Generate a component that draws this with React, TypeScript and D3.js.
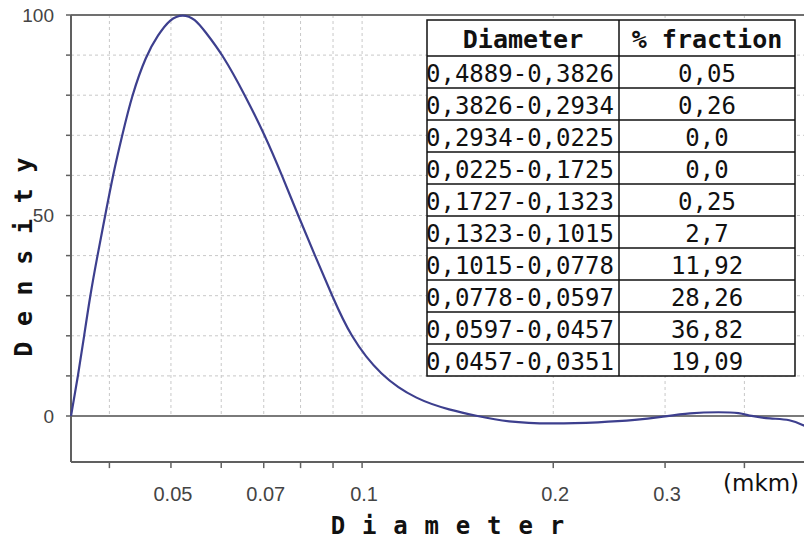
import React from 'react';
import * as d3 from 'd3';

// Curve (diameter in mkm, density)
const diameters = [0.0348, 0.0357, 0.0365, 0.0373, 0.0383, 0.0394, 0.0405, 0.0419, 0.0434, 0.0457, 0.0477, 0.0498, 0.0522, 0.0546, 0.0565, 0.0604, 0.0654, 0.0703, 0.0748, 0.0793, 0.0843, 0.0897, 0.0957, 0.1068, 0.1221, 0.1376, 0.1517, 0.1692, 0.1977, 0.2371, 0.2711, 0.2946, 0.3285, 0.3663, 0.3938, 0.4083, 0.4390, 0.4721, 0.4985];
const densities = [0, 10, 20, 30, 40, 50, 60, 70, 80, 90, 95, 99, 100.3, 99, 96, 90, 80, 70, 60, 50, 40, 30, 20, 10, 4, 1.5, 0, -1.5, -2, -1.6, -1, -0.3, 0.8, 1, 0.8, 0, -0.7, -0.8, -2.5];

const xTickValues = [0.04, 0.05, 0.06, 0.07, 0.08, 0.09, 0.1, 0.2, 0.3, 0.4];
const xLabelValues = [0.05, 0.07, 0.1, 0.2, 0.3];
const yTickValues = [0, 10, 20, 30, 40, 50, 60, 70, 80, 90, 100];
const yGridValues = [10, 20, 30, 40, 50, 60, 70, 80, 90];
const yLabelValues = [0, 50, 100];

const tableHeaders = ['Diameter', '% fraction'];
const diameterRanges = ['0,4889-0,3826', '0,3826-0,2934', '0,2934-0,0225', '0,0225-0,1725', '0,1727-0,1323', '0,1323-0,1015', '0,1015-0,0778', '0,0778-0,0597', '0,0597-0,0457', '0,0457-0,0351'];
const fractions = ['0,05', '0,26', '0,0', '0,0', '0,25', '2,7', '11,92', '28,26', '36,82', '19,09'];

const W = 804;
const H = 541;
const left = 71;
const pxPerDecade = 635;
const xMin = 0.0348;
const xMax = 0.5;

export default function App() {
  const x = d3.scaleLog().domain([xMin, xMax]).range([left, left + pxPerDecade * Math.log10(xMax / xMin)]);
  const y = d3.scaleLinear().domain([0, 100]).range([416, 15]);
  const yBottom = y(-11.5);
  const yZero = y(0);
  const yTop = y(100);

  const pts: [number, number][] = diameters.map((d, i) => [x(d), y(densities[i])]);
  const line = d3.line<[number, number]>().x(p => p[0]).y(p => p[1]).curve(d3.curveBasis);
  const path = line(pts) || '';

  const tLeft = 427, tRight = 795, tDiv = 619, tTop = 20, headH = 36, rowH = 32;
  const tBottom = tTop + headH + rowH * diameterRanges.length;
  const labelFont = "'Liberation Sans', Arial, sans-serif";
  const mono = "'DejaVu Sans Mono', monospace";

  return (
    <svg width={W} height={H} style={{ position: 'absolute', left: 0, top: 0, background: '#fff' }}>
      <rect x={0} y={0} width={W} height={H} fill="#fff" />
      {/* grid */}
      {yGridValues.map(v => (
        <line key={'hg' + v} x1={left} x2={W} y1={y(v)} y2={y(v)} stroke="#c8c8c8" strokeWidth={1} strokeDasharray="3,3" />
      ))}
      {xTickValues.map(v => (
        <line key={'vg' + v} x1={x(v)} x2={x(v)} y1={yTop} y2={yZero} stroke="#c8c8c8" strokeWidth={1} strokeDasharray="3,3" />
      ))}
      {/* zero line */}
      <line x1={left} x2={W} y1={yZero} y2={yZero} stroke="#7a7a7a" strokeWidth={2} />
      {/* frame */}
      <line x1={left} x2={W} y1={yTop} y2={yTop} stroke="#707070" strokeWidth={2} />
      <line x1={left} x2={left} y1={yTop} y2={yBottom} stroke="#606060" strokeWidth={2} />
      <line x1={left} x2={W} y1={yBottom} y2={yBottom} stroke="#606060" strokeWidth={2} />
      {/* y ticks */}
      {yTickValues.map(v => (
        <line key={'yt' + v} x1={left - 5} x2={left} y1={y(v)} y2={y(v)} stroke="#606060" strokeWidth={1.5} />
      ))}
      {yLabelValues.map(v => (
        <text key={'yl' + v} x={54} y={y(v)} dy="0.36em" textAnchor="end" fontFamily={labelFont} fontSize={19} fill="#444">{v}</text>
      ))}
      {/* x ticks */}
      {xTickValues.map(v => (
        <line key={'xt' + v} x1={x(v)} x2={x(v)} y1={yBottom} y2={yBottom + 6} stroke="#606060" strokeWidth={1.5} />
      ))}
      {xLabelValues.map(v => (
        <text key={'xl' + v} x={x(v) + 2} y={501} textAnchor="middle" fontFamily={labelFont} fontSize={20} fill="#444">{String(v)}</text>
      ))}
      {/* curve */}
      <path d={path} fill="none" stroke="#3d3f8e" strokeWidth={2.2} />
      {/* table */}
      <rect x={tLeft} y={tTop} width={tRight - tLeft} height={tBottom - tTop} fill="#fff" stroke="#111" strokeWidth={1.5} />
      <line x1={tDiv} x2={tDiv} y1={tTop} y2={tBottom} stroke="#111" strokeWidth={1.5} />
      <line x1={tLeft} x2={tRight} y1={tTop + headH} y2={tTop + headH} stroke="#111" strokeWidth={1.5} />
      {diameterRanges.map((_, i) => i > 0 ? (
        <line key={'rl' + i} x1={tLeft} x2={tRight} y1={tTop + headH + rowH * i} y2={tTop + headH + rowH * i} stroke="#111" strokeWidth={1.5} />
      ) : null)}
      <text x={(tLeft + tDiv) / 2} y={tTop + 28} textAnchor="middle" fontFamily={mono} fontWeight="bold" fontSize={25} fill="#111">{tableHeaders[0]}</text>
      <text x={(tDiv + tRight) / 2} y={tTop + 28} textAnchor="middle" fontFamily={mono} fontWeight="bold" fontSize={25} fill="#111">{tableHeaders[1]}</text>
      {diameterRanges.map((r, i) => (
        <text key={'dr' + i} x={tLeft - 1} y={tTop + headH + rowH * i + 26} fontFamily={mono} fontSize={24} fill="#111">{r}</text>
      ))}
      {fractions.map((f, i) => (
        <text key={'fr' + i} x={(tDiv + tRight) / 2} y={tTop + headH + rowH * i + 26} textAnchor="middle" fontFamily={mono} fontSize={24} fill="#111">{f}</text>
      ))}
      {/* axis titles */}
      <text x={448} y={534} textAnchor="middle" fontFamily={mono} fontWeight="bold" fontSize={24} letterSpacing={1.2} fill="#111">D i a m e t e r</text>
      <text transform="translate(32,257) rotate(-90)" textAnchor="middle" fontFamily={mono} fontWeight="bold" fontSize={25} letterSpacing={0.3} fill="#111">D e n s i t y</text>
      <text x={723} y={491} fontFamily="'DejaVu Sans', sans-serif" fontSize={23} fill="#111">(mkm)</text>
    </svg>
  );
}
